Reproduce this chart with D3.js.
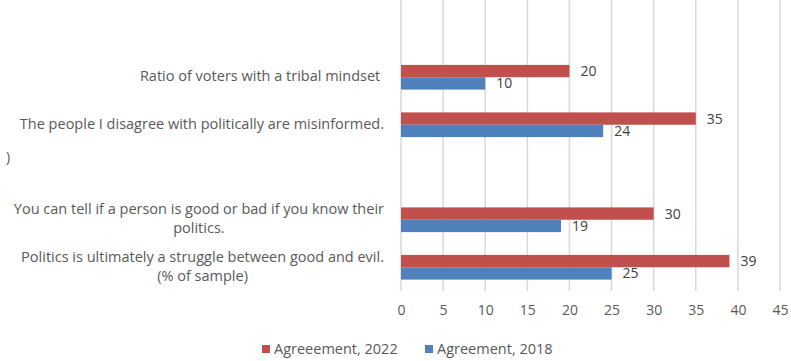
<!DOCTYPE html>
<html>
<head>
<meta charset="utf-8">
<script src="https://cdn.jsdelivr.net/npm/d3@7"></script>
<style>
  body { margin: 0; background: #fff; overflow: hidden; }
  svg { display: block; }
  text { font-family: "Open Sans", "Liberation Sans", Arial, sans-serif; }
</style>
</head>
<body>
<div id="chart"></div>
<script>
// categories from top to bottom (blank slots are empty rows in the source chart)
const categories = [
  "",
  "Ratio of voters with a tribal mindset ",
  "The people I disagree with politically are misinformed.",
  "",
  "You can tell if a person is good or bad if you know their\npolitics.",
  "Politics is ultimately a struggle between good and evil.\n(% of sample)"
];
const values2022 = [null, 20, 35, null, 30, 39];
const values2018 = [null, 10, 24, null, 19, 25];
const seriesNames = ["Agreeement, 2022", "Agreement, 2018"];
const xTicks = [0, 5, 10, 15, 20, 25, 30, 35, 40, 45];

const width = 791, height = 361;
const margin = { top: 6, right: 11, bottom: 70, left: 401 };
const innerWidth = width - margin.left - margin.right;
const innerHeight = height - margin.top - margin.bottom;

const colors = ["#C0504D", "#4F81BD"];

const svg = d3.select("#chart")
  .append("svg")
  .attr("width", width)
  .attr("height", height);

const g = svg.append("g")
  .attr("transform", `translate(${margin.left}, ${margin.top})`);

const xScale = d3.scaleLinear()
  .domain([0, 45])
  .range([0, innerWidth]);

const yScale = d3.scaleBand()
  .domain(d3.range(categories.length))
  .range([0, innerHeight])
  .paddingInner(0.48)
  .paddingOuter(0.24);

// gridlines
g.selectAll(".grid").data(xTicks)
  .enter().append("line")
  .attr("x1", d => xScale(d))
  .attr("x2", d => xScale(d))
  .attr("y1", -6)
  .attr("y2", innerHeight)
  .attr("stroke", "#d9d9d9")
  .attr("stroke-width", 1.5);

// x axis
const xAxis = d3.axisBottom(xScale).tickValues(xTicks).tickSize(0).tickPadding(14);
const gX = g.append("g")
  .attr("transform", `translate(0, ${innerHeight})`)
  .call(xAxis);
gX.select(".domain").remove();
gX.selectAll("text")
  .attr("fill", "#595959")
  .style("font-size", "14px")
  .style("font-family", "Open Sans, Liberation Sans, Arial, sans-serif");

// bars
const series = [values2022, values2018];
const subScale = d3.scaleBand().domain([0, 1]).range([0, yScale.bandwidth()]);

series.forEach((vals, si) => {
  const rows = vals.map((v, i) => ({ v, i })).filter(d => d.v != null);
  g.selectAll(".bar" + si).data(rows)
    .enter().append("rect")
    .attr("x", 0)
    .attr("y", d => yScale(d.i) + subScale(si))
    .attr("width", d => xScale(d.v))
    .attr("height", subScale.bandwidth())
    .attr("fill", colors[si]);

  g.selectAll(".lbl" + si).data(rows)
    .enter().append("text")
    .attr("x", d => xScale(d.v) + 11)
    .attr("y", d => yScale(d.i) + subScale(si) + subScale.bandwidth() / 2 + 5)
    .attr("fill", "#404040")
    .style("font-size", "14px")
    .text(d => d.v);
});

// category labels: block right aligned, lines centred inside block
const labelRight = -17;
categories.forEach((c, i) => {
  if (!c) return;
  const lines = c.split("\n");
  const lineH = 19;
  const cy = yScale(i) + yScale.bandwidth() / 2;
  const t = g.append("text")
    .attr("fill", "#595959")
    .style("font-size", "14.5px")
    .style("white-space", "pre")
    .attr("text-anchor", "middle");
  const spans = lines.map((ln, li) => t.append("tspan")
    .attr("y", cy + (li - (lines.length - 1) / 2) * lineH + 4)
    .text(ln));
  const w = d3.max(spans, s => s.node().getComputedTextLength());
  spans.forEach(s => s.attr("x", labelRight - w / 2));
});

// stray fragment of a cut-off label at the left edge
svg.append("text")
  .attr("x", 6)
  .attr("y", margin.top + yScale(3) + yScale.bandwidth() / 2 - 10)
  .attr("fill", "#595959")
  .style("font-size", "14px")
  .text(")");

// legend
const legend = svg.append("g").attr("transform", "translate(262, 349)");
const legendX = [0, 163];
seriesNames.forEach((name, i) => {
  const lg = legend.append("g").attr("transform", `translate(${legendX[i]}, 0)`);
  lg.append("rect")
    .attr("x", 0).attr("y", -4)
    .attr("width", 8).attr("height", 8)
    .attr("fill", colors[i]);
  lg.append("text")
    .attr("x", 12).attr("y", 5)
    .attr("fill", "#595959")
    .style("font-size", "14.5px")
    .text(name);
});
</script>
</body>
</html>
